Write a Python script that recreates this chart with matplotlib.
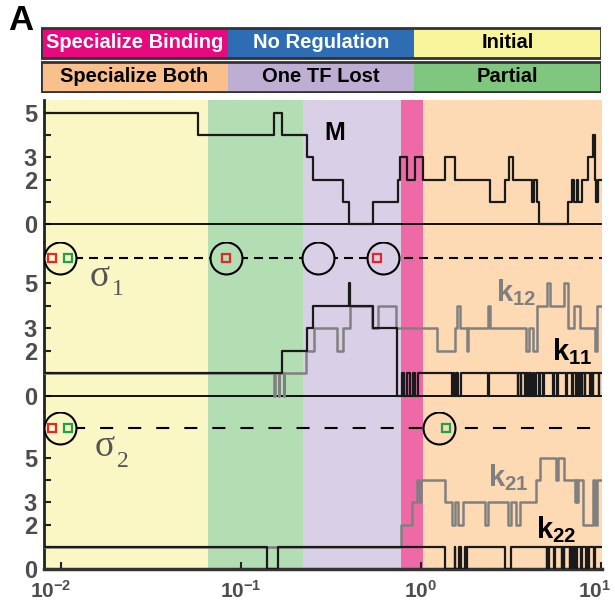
import matplotlib
matplotlib.use("Agg")
import matplotlib.pyplot as plt
import matplotlib.transforms as mtransforms
from matplotlib.patches import Rectangle
from matplotlib.ticker import NullLocator
import numpy as np

plt.rcParams['font.family'] = ['Liberation Sans', 'DejaVu Sans']
plt.rcParams['mathtext.fontset'] = 'custom'
plt.rcParams['mathtext.bf'] = 'Liberation Sans:bold'
plt.rcParams['mathtext.rm'] = 'Liberation Sans'
plt.rcParams['lines.scale_dashes'] = False

# legend boxes
leg_row1 = ['Specialize Binding', 'No Regulation', 'Initial']
leg_row1_col = ['#E8097F', '#2E6DB4', '#F8F49C']
leg_row1_txt = ['white', 'white', 'black']
leg_row2 = ['Specialize Both', 'One TF Lost', 'Partial']
leg_row2_col = ['#F9C08B', '#BEAED4', '#7FC77E']
leg_row2_txt = ['black', 'black', 'black']

# regimes along the x axis
reg_edges = [0.00805, 0.0656, 0.221, 0.774, 1.026, 10.13]
reg_cols = ['#FAF7C5', '#B3DDB3', '#D9CFE6', '#EE6AA7', '#FDDAB4']

# M (top panel)
M_x = [0.00805, 0.0577, 0.1525, 0.169, 0.233, 0.251, 0.369, 0.398, 0.541, 0.745,
       0.764, 0.833, 0.926, 1.03, 1.359, 1.545, 2.416, 2.929, 3.095, 3.23,
       4.12, 4.25, 4.39, 4.52, 6.58, 6.87, 7.05, 7.33, 7.5, 7.81,
       8.5, 9.06, 9.26, 9.4, 9.6]
M_y = [5, 4, 5, 4, 3, 2, 1, 0, 1, 2,
       3, 2, 3, 2, 3, 2, 1, 2, 3, 2,
       1, 2, 1, 0, 1, 2, 1, 2, 1, 2,
       3, 4, 2, 1, 2]

# k11 / k12 (middle panel)
k11_x = [0.00805, 0.168, 0.233, 0.251, 0.398, 0.405, 0.541, 0.737,
         0.78, 0.80, 0.84, 0.87, 0.90, 0.93, 0.96,
         1.48, 1.50, 1.53, 1.56, 1.60, 1.66,
         2.35, 2.38,
         3.45, 3.48, 3.58, 3.61, 3.80, 3.84, 3.95, 3.98, 4.10, 4.20, 4.25, 4.35, 4.50, 4.60,
         4.75, 4.80, 5.40, 5.45, 5.70, 5.75, 6.40, 6.45, 6.90, 6.95,
         7.30, 7.35, 7.55, 7.60, 7.80, 7.85, 8.15, 8.20, 8.70, 8.75, 9.00, 9.05, 9.70, 9.75]
k11_y = [1, 2, 3, 4, 5, 4, 3, 0,
         1, 0, 1, 0, 1, 0, 1,
         0, 1, 0, 1, 0, 1,
         0, 1,
         0, 1, 0, 1, 0, 1, 0, 1, 0, 1, 0, 1, 0, 1,
         0, 1, 0, 1, 0, 1, 0, 1, 0, 1,
         0, 1, 0, 1, 0, 1, 0, 1, 0, 1, 0, 1, 0, 1]

k12_x = [0.00805, 0.1526, 0.1538, 0.1624, 0.1637, 0.1729, 0.1743, 0.23, 0.253, 0.340,
         0.370, 0.403, 0.537, 0.58, 0.73, 1.23, 1.545, 1.58, 1.65, 1.80,
         1.83, 2.35, 2.42, 3.84, 4.0, 4.19, 4.39, 5.0, 5.23, 6.2,
         6.58, 7.1, 7.6, 9.26, 9.5]
k12_y = [1, 0, 1, 0, 1, 0, 1, 2, 3, 2,
         3, 4, 3, 4, 3, 2, 3, 4, 3, 2,
         3, 4, 3, 2, 3, 2, 4, 5, 4, 5,
         3, 4, 3, 2, 4]

# k21 / k22 (bottom panel)
k21_x = [0.00805, 0.77, 0.89, 0.95, 0.97, 1.0, 1.36, 1.48, 1.545, 1.60,
         1.72, 2.28, 2.35, 3.05, 3.17, 3.39, 3.54, 4.33, 4.61, 5.65,
         5.77, 6.2, 7.2, 7.3, 7.4, 7.5, 7.9, 9.0, 9.3, 9.5]
k21_y = [1, 2, 3, 4, 3, 4, 3, 2, 3, 2,
         3, 2, 3, 2, 3, 2, 3, 4, 5, 4,
         5, 4, 3, 4, 3, 4, 2, 4, 2, 4]

k22_x = [0.00805, 0.139, 0.160, 1.36, 1.54, 1.555, 1.63, 1.66, 1.76, 1.78, 1.80, 2.93, 3.17,
         5.0, 5.04, 5.08, 5.12, 5.5, 5.55, 6.05, 6.1, 6.2, 6.25, 6.7, 6.75, 6.85, 6.9,
         7.05, 7.1, 7.3, 7.35, 7.75, 7.8, 8.3, 8.35, 8.5, 8.55, 9.2, 9.25]
k22_y = [1, 0, 1, 0, 1, 0, 1, 0, 1, 0, 1, 0, 1,
         0, 1, 0, 1, 0, 1, 0, 1, 0, 1, 0, 1, 0, 1,
         0, 1, 0, 1, 0, 1, 0, 1, 0, 1, 0, 1]

# sigma markers
sig1_circ = [0.00987, 0.0826, 0.268, 0.615]
sig1_red = [0.0089, 0.0826, 0.569]
sig1_green = [0.0109]
sig2_circ = [0.00987, 1.26]
sig2_red = [0.0089]
sig2_green = [0.0109, 1.377]

XMIN, XMAX = reg_edges[0], reg_edges[-1]
RED, GREEN = '#E8262A', '#1BA24A'
TICKCOL = '#4D4D4D'
GRAY = '#808080'

W, H = 615, 603
fig = plt.figure(figsize=(W / 100, H / 100), dpi=100)


def add_ax(x0, y0, x1, y1):
    return fig.add_axes([x0 / W, 1 - y1 / H, (x1 - x0) / W, (y1 - y0) / H])


def draw_steps(ax, xs, ys, **kw):
    ax.step(list(xs) + [XMAX], list(ys) + [ys[-1]], where='post', **kw)


def region_color(x):
    i = np.searchsorted(reg_edges, x) - 1
    return reg_cols[int(np.clip(i, 0, len(reg_cols) - 1))]


def setup(ax, ylim, bottom=False):
    ax.set_xscale('log')
    ax.set_xlim(XMIN, XMAX)
    ax.set_ylim(*ylim)
    for i in range(len(reg_cols)):
        ax.axvspan(reg_edges[i], reg_edges[i + 1], color=reg_cols[i], lw=0, zorder=0)
    for s in ['top', 'right']:
        ax.spines[s].set_visible(False)
    ax.spines['left'].set_linewidth(2)
    ax.spines['left'].set_color('#222222')
    ax.set_yticks([0, 1, 2, 3, 4, 5])
    ax.set_yticklabels(['0', '', '2', '3', '', '5'])
    ax.tick_params(axis='y', direction='in', length=5, width=1.5, color='#222222',
                   labelsize=17, labelcolor=TICKCOL, pad=5)
    for lab in ax.get_yticklabels():
        lab.set_fontweight('bold')
    ax.xaxis.set_minor_locator(NullLocator())
    if bottom:
        ax.spines['bottom'].set_linewidth(2.5)
        ax.spines['bottom'].set_color('#333333')
        ax.set_xticks([0.01, 0.1, 1, 10])
        ax.set_xticklabels([r'$\mathbf{10^{-2}}$', r'$\mathbf{10^{-1}}$',
                            r'$\mathbf{10^{0}}$', r'$\mathbf{10^{1}}$'])
        ax.tick_params(axis='x', direction='in', length=5, width=1.5, color='#222222',
                       labelsize=15, labelcolor=TICKCOL, pad=8)
    else:
        ax.spines['bottom'].set_visible(False)
        ax.set_xticks([])
    ax.set_facecolor('none')


def sigma_row(ax, y, circ, red, green, dash):
    ax.axhline(y, color='black', lw=1.5, dashes=dash, zorder=2)
    for c in circ:
        ax.plot([c], [y], 'o', ms=23, mfc=region_color(c), mec='black', mew=1.5, zorder=3)
    ax.plot(red, [y] * len(red), 's', ms=6, mfc='none', mec=RED, mew=1.6, zorder=4)
    ax.plot(green, [y] * len(green), 's', ms=6, mfc='none', mec=GREEN, mew=1.6, zorder=4)


def shift_label(lab, dx_px):
    lab.set_transform(lab.get_transform() +
                      mtransforms.ScaledTranslation(dx_px / 100, 0, fig.dpi_scale_trans))


# legend strip
ax_leg = add_ax(41, 27, 601, 93)
ax_leg.set_xlim(0, 3)
ax_leg.set_ylim(93, 27)
ax_leg.axis('off')
for row, (labs, cols, tcols, y0) in enumerate([(leg_row1, leg_row1_col, leg_row1_txt, 28),
                                                (leg_row2, leg_row2_col, leg_row2_txt, 62)]):
    for i in range(3):
        ax_leg.add_patch(Rectangle((i, y0), 1, 29.5, fc=cols[i], lw=0))
        ax_leg.text(i + 0.5, y0 + 15, labs[i], ha='center', va='center',
                    fontsize=14.5, fontweight='bold', color=tcols[i])
    ax_leg.add_patch(Rectangle((0, y0), 3, 29.5, fill=False, lw=2, ec='#333333'))

fig.text(8 / W, 1 - 20 / H, 'A', fontsize=25, fontweight='bold', va='center', ha='left')

# top panel: M
ax1 = add_ax(44, 100, 602, 242)
setup(ax1, (-0.81, 5.59))
ax1.axhline(0, color='black', lw=1.3, zorder=2)
draw_steps(ax1, M_x, M_y, color='#1a1a1a', lw=1.6, zorder=3)
ax1.text(0.33, 4.1, 'M', fontsize=18, fontweight='bold', ha='center', va='center')

# middle panel: sigma1, k11, k12
ax2 = add_ax(44, 242, 602, 412)
setup(ax2, (-0.71, 6.84))
ax2.axhline(0, color='black', lw=1.3, zorder=2)
draw_steps(ax2, k12_x, k12_y, color=GRAY, lw=1.8, zorder=3)
draw_steps(ax2, k11_x, k11_y, color='#1a1a1a', lw=1.6, zorder=4)
sigma_row(ax2, 6.13, sig1_circ, sig1_red, sig1_green, (6.5, 4.3))
ax2.text(0.0165, 5.29, 'σ', family='Liberation Serif', fontsize=27, color='#555555',
         ha='center', va='center')
ax2.text(0.0207, 4.72, '1', family='Liberation Serif', fontsize=17, color='#555555',
         ha='center', va='center')
ax2.text(3.37, 4.58, r'$\mathbf{k_{12}}$', fontsize=21, color=GRAY, ha='center', va='center')
ax2.text(6.9, 1.96, r'$\mathbf{k_{11}}$', fontsize=21, color='black', ha='center', va='center')

# bottom panel: sigma2, k21, k22
ax3 = add_ax(44, 412, 602, 569)
setup(ax3, (0, 7.07), bottom=True)
draw_steps(ax3, k21_x, k21_y, color=GRAY, lw=1.8, zorder=3)
draw_steps(ax3, k22_x, k22_y, color='#1a1a1a', lw=1.6, zorder=4)
sigma_row(ax3, 6.35, sig2_circ, sig2_red, sig2_green, (9.4, 10.8))
ax3.text(0.01755, 5.5, 'σ', family='Liberation Serif', fontsize=27, color='#555555',
         ha='center', va='center')
ax3.text(0.0221, 4.82, '2', family='Liberation Serif', fontsize=17, color='#555555',
         ha='center', va='center')
ax3.text(3.04, 4.1, r'$\mathbf{k_{21}}$', fontsize=21, color=GRAY, ha='center', va='center')
ax3.text(5.62, 1.76, r'$\mathbf{k_{22}}$', fontsize=21, color='black', ha='center', va='center')

# edge labels pulled inward
xl = ax3.get_xticklabels()
shift_label(xl[0], -10)
shift_label(xl[-1], -6)

fig.savefig('out.png', dpi=100)
